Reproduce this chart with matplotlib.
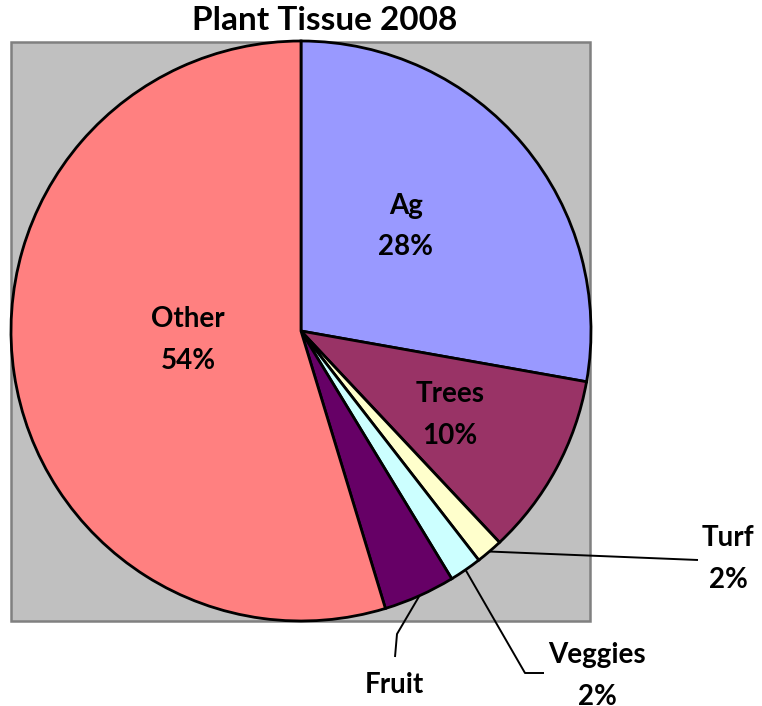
import matplotlib
matplotlib.use("Agg")
import matplotlib.pyplot as plt
from matplotlib.patches import Rectangle
import numpy as np

# ---- data ----
categories = ["Ag", "Trees", "Turf", "Veggies", "Fruit", "Other"]
values = [27.8, 10.2, 1.5, 1.8, 4.0, 54.7]
pct_labels = ["28%", "10%", "2%", "2%", "4%", "54%"]
colors = ["#9999FF", "#993366", "#FFFFCC", "#CCFFFF", "#660066", "#FF8080"]
title = "Plant Tissue 2008"

plt.rcParams['font.family'] = ['Lato', 'DejaVu Sans']
W, H = 762, 706
fig = plt.figure(figsize=(W / 100, H / 100), dpi=100)
ax = fig.add_axes([0, 0, 1, 1])
ax.set_xlim(0, W)
ax.set_ylim(0, H)
ax.axis('off')

def P(x, y):
    return x, H - y

# plot area
bx0, by0 = P(11, 621)
ax.add_patch(Rectangle((bx0, by0), 579, 579, facecolor="#C0C0C0",
                       edgecolor="#808080", lw=1.8, zorder=0))

cx, cy = P(301, 331)
R = 290
wedges, _ = ax.pie(values, colors=colors, startangle=90, counterclock=False,
                   center=(cx, cy), radius=R, frame=True,
                   wedgeprops=dict(edgecolor="black", linewidth=2.0))
ax.set_xlim(0, W)
ax.set_ylim(0, H)
ax.set_aspect('auto')
ax.axis('off')

fs = 20
ls = 1.75
# inside labels: (angle offset deg, radius fraction)
inside = {0: (5, 0.51), 1: (-1, 0.59), 5: (-4, 0.39)}
for i, (da, rf) in inside.items():
    w = wedges[i]
    mid = np.deg2rad((w.theta1 + w.theta2) / 2 + da)
    x = cx + rf * R * np.cos(mid)
    y = cy + rf * R * np.sin(mid)
    ax.text(x, y, f"{categories[i]}\n{pct_labels[i]}", ha='center', va='center',
            fontsize=fs, fontweight='bold', linespacing=ls, zorder=5)

# outside labels with leader lines
outside = {
    2: dict(path=[(698, 560)], text=(728, 559)),
    3: dict(path=[(525, 673), (544, 673)], text=(597, 676)),
    4: dict(path=[(397, 634), (395, 657)], text=(394, 706)),
}
for i, spec in outside.items():
    w = wedges[i]
    mid = np.deg2rad((w.theta1 + w.theta2) / 2)
    xs = [cx + R * np.cos(mid)] + [P(*p)[0] for p in spec['path']]
    ys = [cy + R * np.sin(mid)] + [P(*p)[1] for p in spec['path']]
    ax.plot(xs, ys, color="black", lw=1.4, zorder=4, solid_capstyle='butt')
    tx, ty = P(*spec['text'])
    ax.text(tx, ty, f"{categories[i]}\n{pct_labels[i]}", ha='center', va='center',
            fontsize=fs, fontweight='bold', linespacing=ls, zorder=5)

tx, ty = P(325, 21)
ax.text(tx, ty, title, ha='center', va='center', fontsize=24, fontweight='bold')

fig.savefig("out.png", dpi=100)
